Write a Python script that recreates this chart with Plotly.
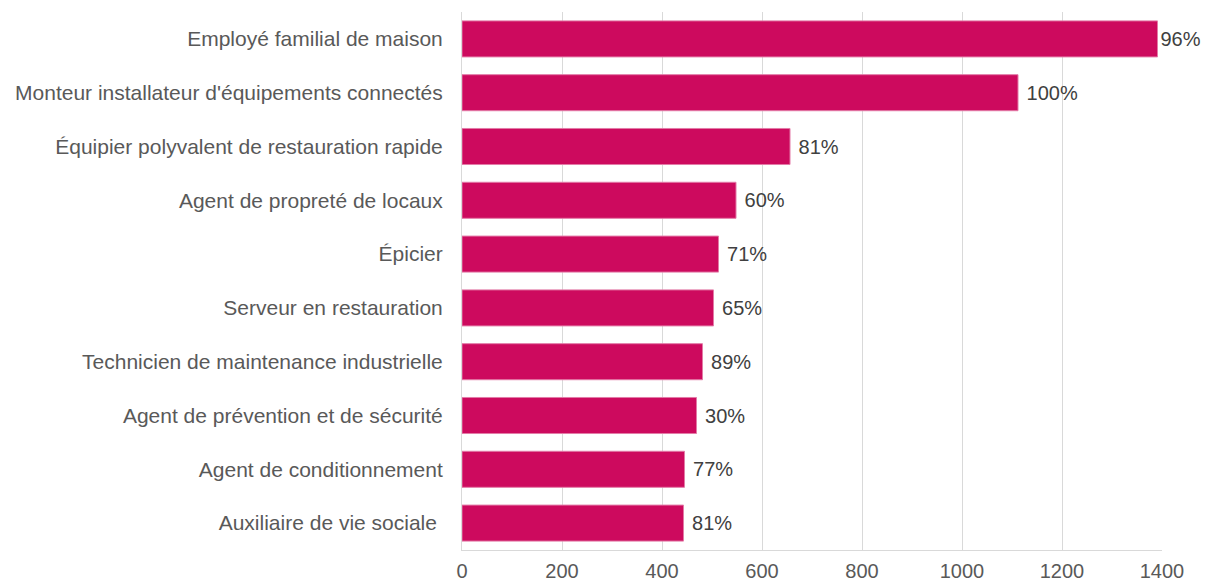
import plotly.graph_objects as go

categories = [
    "Employé familial de maison",
    "Monteur installateur d'équipements connectés",
    "Équipier polyvalent de restauration rapide",
    "Agent de propreté de locaux",
    "Épicier",
    "Serveur en restauration",
    "Technicien de maintenance industrielle",
    "Agent de prévention et de sécurité",
    "Agent de conditionnement",
    "Auxiliaire de vie sociale ",
]
values = [1391, 1112, 656, 548, 513, 503, 481, 469, 445, 443]
pct_labels = ["96%", "100%", "81%", "60%", "71%", "65%", "89%", "30%", "77%", "81%"]
x_ticks = [0, 200, 400, 600, 800, 1000, 1200, 1400]

# labels near the right edge sit closer to their bar
texts = [t if v > 1300 else "\u00a0" + t for t, v in zip(pct_labels, values)]

FONT = "Liberation Sans, Arial, sans-serif"

fig = go.Figure()
fig.add_trace(go.Bar(
    y=categories,
    x=values,
    orientation="h",
    marker=dict(color="#CD0A5E", line=dict(color="#E37BA7", width=1)),
    text=texts,
    textposition="outside",
    cliponaxis=False,
    textfont=dict(family=FONT, size=20, color="#404040"),
    hoverinfo="skip",
))

fig.update_layout(
    width=1205, height=584,
    margin=dict(l=462, r=43, t=12, b=34, autoexpand=False),
    paper_bgcolor="white", plot_bgcolor="white",
    bargap=0.33,
    showlegend=False,
    font=dict(family=FONT, size=21, color="#595959"),
)
fig.update_xaxes(
    range=[0, 1400],
    tickvals=x_ticks,
    ticktext=[str(v) for v in x_ticks],
    showgrid=True, gridcolor="#D9D9D9", gridwidth=1,
    zeroline=False,
    showline=True, linecolor="#D9D9D9", linewidth=1,
    ticks="", ticklabelstandoff=3, automargin=False,
    tickfont=dict(family=FONT, size=20, color="#595959"),
)
fig.update_yaxes(
    categoryorder="array", categoryarray=categories,
    autorange="reversed",
    showgrid=False, zeroline=False,
    showline=True, linecolor="#D9D9D9", linewidth=1,
    ticks="", ticklabelstandoff=14, automargin=False,
    tickfont=dict(family=FONT, size=21, color="#595959"),
)

# remove the default page margin so the figure fills the window exactly
fig.write_html(
    "out.html",
    config={"displayModeBar": False},
    post_script="document.body.style.margin='0';document.body.style.overflow='hidden';",
)
